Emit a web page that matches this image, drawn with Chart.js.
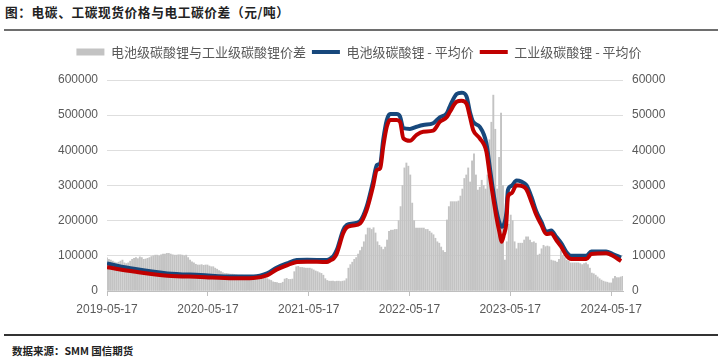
<!DOCTYPE html>
<html><head><meta charset="utf-8">
<script src="https://cdn.jsdelivr.net/npm/chart.js@4"></script>
<style>
html,body{margin:0;padding:0;background:#fff;}
#wrap{position:relative;width:718px;height:364px;overflow:hidden;font-family:"Noto Sans CJK SC",sans-serif;}
#title{position:absolute;left:5px;top:4px;font-size:12.7px;letter-spacing:0.6px;font-weight:bold;color:#222;white-space:nowrap;line-height:16px;}
#topline{position:absolute;left:4px;right:0;top:29px;height:2px;background:#6e6e6e;}
#botline{position:absolute;left:4px;right:0;top:334px;height:2px;background:#333;}
#source{position:absolute;left:12px;top:344px;font-size:10.5px;font-weight:bold;color:#222;white-space:nowrap;line-height:14px;}
#cvbox{position:absolute;left:0;top:35px;width:718px;height:295px;}
</style>
</head><body>
<div id="wrap">
  <div id="title">图：电碳、工碳现货价格与电工碳价差（元/吨）</div>
  <div id="topline"></div>
  <div id="cvbox"><canvas id="cv" width="718" height="295" style="width:718px;height:295px"></canvas></div>
  <div id="botline"></div>
  <div id="source">数据来源：SMM 国信期货</div>
</div>
<script>
// ---- data ----
const startDate = '2019-05-17';          // first weekly observation
const weekStepDays = 7;
const tickDates = ['2019-05-17','2020-05-17','2021-05-17','2022-05-17','2023-05-17','2024-05-17'];

// 电池级碳酸锂与工业级碳酸锂价差 (weekly, 元/吨, right axis)
const spread = [
 9400,9000,8800,8500,8200,8000,8200,8500,8800,8000,
 7800,8000,8500,9000,9300,9500,9200,9700,9500,9000,
 9100,9300,9500,9800,10000,10200,10200,10000,10300,10500,
 10500,10700,10700,10500,10300,10200,10200,10300,10300,10200,
 10000,10200,9500,8800,8300,8000,7600,7400,7400,7500,
 7300,7400,7400,7100,6900,6900,6500,6200,5800,5500,
 5200,5000,5000,4900,4800,4800,4700,4600,4500,4500,
 4500,4400,4200,4000,3900,3800,3700,3600,3600,3600,
 3700,3600,3600,3500,3200,3000,2600,2500,2400,2200,
 2200,2500,3400,3600,3300,3300,3400,5500,6900,7000,
 6700,6700,6600,6500,6500,6500,6300,6000,5700,5500,
 5200,5000,4500,3500,3000,2800,2800,2800,2700,2800,
 2800,2700,2800,2900,3500,6500,7500,8200,9000,9500,
 10500,11500,12500,14000,16000,17900,17900,17500,18000,16500,
 14000,13000,12500,11800,12500,14500,17000,17300,17300,17500,
 17500,20000,24000,30000,35000,36400,35500,33000,25000,20000,
 17900,17900,17900,17900,17900,17500,17500,17000,16500,16000,
 15000,14000,13600,12500,11500,11000,20200,24000,25400,25400,
 25400,25400,25600,27000,29000,32000,33000,35000,31000,37000,
 39000,33000,28700,29500,31500,30000,29000,33000,43000,48000,
 55700,46000,29000,38000,50600,30000,8800,14000,19000,21600,
 20000,14000,12000,13600,13600,13600,14500,15400,15400,14500,
 13800,14000,13600,10200,10500,12000,13000,12600,12800,12600,
 8800,8600,8500,8200,9000,11500,10200,9500,8800,8500,
 8000,8000,8000,8000,8000,7800,7500,7800,8000,7500,
 6500,5100,4900,4500,4000,3500,3100,2800,2600,2500,
 2300,2300,3500,4200,3800,3800,4000,4200
];

// price lines (元/吨, left axis)
const lineDates = [
 '2019-05-17','2019-08-22','2019-12-22','2020-04-20','2020-08-17','2020-10-29','2020-12-17',
 '2021-01-22','2021-02-27','2021-04-04','2021-05-11','2021-07-22','2021-08-03','2021-08-15',
 '2021-08-27','2021-09-19','2021-10-02','2021-10-25','2021-11-19','2021-12-13','2022-01-05',
 '2022-01-19','2022-01-31','2022-02-11','2022-02-24','2022-03-08','2022-04-01','2022-04-13',
 '2022-04-25','2022-05-19','2022-06-12','2022-07-06','2022-08-11','2022-09-04','2022-09-29',
 '2022-10-11','2022-11-04','2022-11-22','2022-12-10','2022-12-22','2023-01-03','2023-01-27',
 '2023-02-20','2023-03-04','2023-03-16','2023-03-28','2023-04-09','2023-04-16','2023-04-24',
 '2023-05-03','2023-05-09','2023-05-22','2023-06-09','2023-06-27','2023-07-15','2023-08-02',
 '2023-08-20','2023-09-07','2023-09-25','2023-10-13','2023-10-31','2023-11-18','2023-12-06',
 '2023-12-24','2024-02-17','2024-03-06','2024-04-29','2024-05-23','2024-06-22'
];
const batteryPrice = [
 78000,63000,50000,45500,41000,41000,50000,
 67000,78500,88000,89000,88000,92000,100000,
 117000,173000,188000,192000,199000,240000,311000,
 358000,363000,430000,486000,503000,503000,496000,
 463000,461000,467000,472000,477000,494000,505000,
 526000,560000,564000,553000,510000,481000,467000,
 420000,353000,287000,230000,192000,183000,188000,
 221000,287000,299000,314000,311000,301000,268000,
 226000,197000,169000,172000,154000,136000,112000,
 100000,100000,112000,112000,105000,95000
];
const industrialPrice = [
 67500,55500,43500,40000,36000,37000,44500,
 61500,73000,82500,83500,82500,87000,92000,
 107000,164000,181000,186000,192000,230000,297000,
 344000,349000,410000,467000,486000,486000,481000,
 434000,427000,444000,453000,456000,481000,494000,
 510000,538000,541000,532000,496000,458000,434000,
 396000,330000,268000,211000,164000,140000,159000,
 192000,268000,278000,301000,299000,289000,254000,
 216000,188000,162000,164000,145000,126000,102000,
 91000,91000,105000,107000,100000,85000
];

// ---- helpers ----
const DAY = 86400000;
const t0 = Date.parse(startDate);
const dayOf = s => Math.round((Date.parse(s) - t0) / DAY);
const fmtDay = d => new Date(t0 + d * DAY).toISOString().slice(0, 10);
const tickDays = tickDates.map(dayOf);
const lastDay = (spread.length - 1) * weekStepDays;

const spreadPts = spread.map((v, i) => ({x: i * weekStepDays, y: v}));
const battPts = lineDates.map((d, i) => ({x: dayOf(d), y: batteryPrice[i]}));
const indPts = lineDates.map((d, i) => ({x: dayOf(d), y: industrialPrice[i]}));

const legendSpacer = {
  id: 'legendSpacer',
  beforeInit(chart) {
    const orig = chart.legend.fit;
    chart.legend.fit = function () { orig.call(this); this.height += 11.5; };
  }
};

const tickFont = {family: '"Liberation Sans", Arial, sans-serif', size: 12};

new Chart(document.getElementById('cv'), {
  type: 'bar',
  data: {
    datasets: [
      {type: 'bar', label: '电池级碳酸锂与工业级碳酸锂价差', data: spreadPts, yAxisID: 'y2',
       backgroundColor: '#c3c3c3', borderWidth: 0, barThickness: 1.25, pointStyle: 'rect', order: 3},
      {type: 'line', label: '电池级碳酸锂 - 平均价', data: battPts, yAxisID: 'y',
       borderColor: '#17487c', backgroundColor: '#17487c', borderWidth: 4, pointRadius: 0,
       pointStyle: 'line', cubicInterpolationMode: 'monotone', order: 2},
      {type: 'line', label: '工业级碳酸锂 - 平均价', data: indPts, yAxisID: 'y',
       borderColor: '#c00000', backgroundColor: '#c00000', borderWidth: 4, pointRadius: 0,
       pointStyle: 'line', cubicInterpolationMode: 'monotone', order: 1}
    ]
  },
  options: {
    responsive: false,
    animation: false,
    devicePixelRatio: 1,
    layout: {padding: {top: 4.5, left: 0, right: 0, bottom: 0}},
    plugins: {
      legend: {
        position: 'top', align: 'center',
        labels: {
          font: {family: '"Noto Sans CJK SC", sans-serif', size: 13},
          color: '#595959', usePointStyle: true, pointStyleWidth: 28, boxHeight: 7, padding: 6,
          sort: (a, b) => a.datasetIndex - b.datasetIndex
        }
      },
      tooltip: {enabled: false}
    },
    scales: {
      x: {
        type: 'linear', min: 0, max: lastDay + 1, offset: false,
        afterBuildTicks: s => { s.ticks = tickDays.map(v => ({value: v})); },
        afterFit: s => { s.height = 39; },
        ticks: {callback: v => fmtDay(v), autoSkip: false, maxRotation: 0, color: '#595959', font: tickFont, padding: 6},
        grid: {drawOnChartArea: false, drawTicks: true, tickLength: 5, color: '#bfbfbf', offset: false},
        border: {display: true, color: '#bfbfbf'}
      },
      y: {
        position: 'left', min: 0, max: 600000,
        afterFit: s => { s.width = 107; },
        ticks: {stepSize: 100000, color: '#595959', font: tickFont, padding: 9, callback: v => String(v)},
        grid: {color: '#dedede', drawTicks: false},
        border: {display: false}
      },
      y2: {
        position: 'right', min: 0, max: 60000,
        afterFit: s => { s.width = 95; },
        ticks: {stepSize: 10000, color: '#595959', font: tickFont, padding: 9, callback: v => String(v)},
        grid: {drawOnChartArea: false, drawTicks: false},
        border: {display: false}
      }
    }
  },
  plugins: [legendSpacer]
});
</script>
</body></html>
